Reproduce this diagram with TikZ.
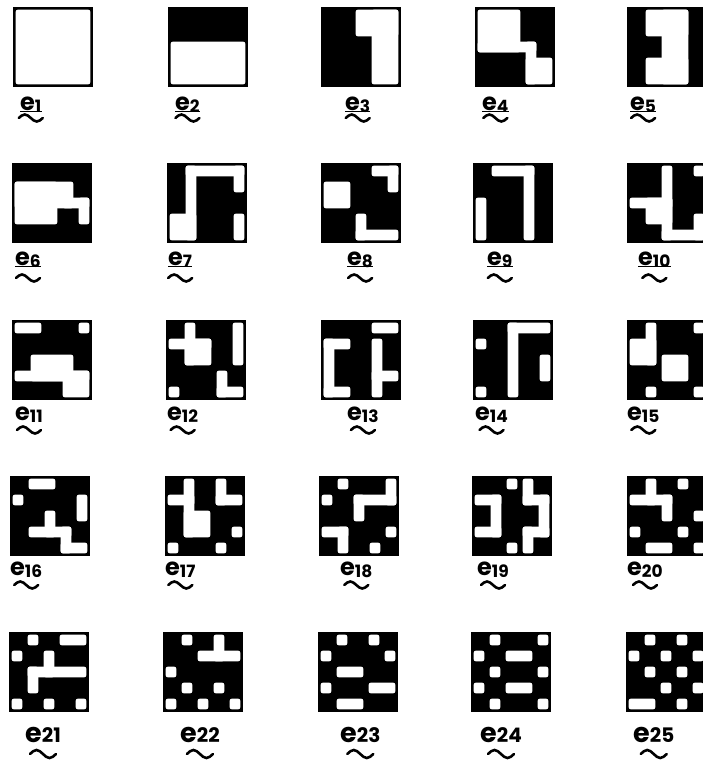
\documentclass[tikz,border=0pt]{standalone}
\usepackage{fontspec}
\setmainfont{Poppins}
\newcommand\drawpat[3]{%
  \fill[black] (#1,#2) rectangle ++(80,80);
  \foreach \ca/\ra/\cb/\rb in {#3}{%
    \fill[white,rounded corners=2.4pt] ({#1+16*\ca+2.6},{#2+16*\ra+2.6}) rectangle ({#1+16*\cb-2.6},{#2+16*\rb-2.6});
  }%
}
\newcommand\sbs[1]{\raisebox{-2pt}{\fontsize{17}{17}\selectfont\bfseries #1}}
\newcommand\sbb[1]{{\fontsize{20}{20}\selectfont\bfseries #1}}
% name, x, baseline, number, tilde offset
\newcommand\elab[5]{%
  \node[lab] (#1) at (#2,#3) {e\sbs{#4}};
  \draw[tl] ([xshift=-12pt,yshift=-#5pt]#1.base) sin ++(6,-3.5) cos ++(6,3.5) sin ++(6,3.5) cos ++(6,-3.5);
}
\newcommand\elabb[5]{%
  \node[labb] (#1) at (#2,#3) {e\sbb{#4}};
  \draw[tl] ([xshift=-13pt,yshift=-#5pt]#1.base) sin ++(6.5,-4) cos ++(6.5,4) sin ++(6.5,4) cos ++(6.5,-4);
}
\newcommand\ulab[1]{\draw[ul] ([yshift=-1.8pt]#1.base west) -- ([yshift=-1.8pt]#1.base east);}
\begin{document}
\begin{tikzpicture}[x=1pt,y=-1pt,
  lab/.style={inner sep=0pt, anchor=base west, font=\fontsize{24}{24}\selectfont\bfseries},
  labb/.style={inner sep=0pt, anchor=base west, font=\fontsize{27}{27}\selectfont\bfseries},
  tl/.style={line width=2.6pt, line cap=round},
  ul/.style={line width=1.3pt}]
\fill[white] (0,0) rectangle (703,763);
\useasboundingbox (0,0) rectangle (703,763);
% row 1
\drawpat{13}{7}{0/0/5/5}
\drawpat{168}{7}{0/2/5/5}
\drawpat{321}{7}{2/0/5/2, 3/0/5/5}
\drawpat{475}{7}{0/0/3/3, 0/2/4/3, 3/2/4/5, 3/3/5/5}
\drawpat{627}{7}{1/0/4/2, 2/0/4/5, 1/3/4/5}
% row 2
\drawpat{12}{163}{0/1/4/3, 0/1/3/4, 3/2/5/3, 4/2/5/4}
\drawpat{167}{163}{1/0/5/1, 1/0/2/5, 0/3/2/5, 4/0/5/2, 4/3/5/5}
\drawpat{321}{163}{3/0/5/1, 4/0/5/2, 0/1/2/3, 2/3/3/5, 2/4/5/5}
\drawpat{473}{163}{1/0/4/1, 3/0/4/5, 0/2/1/5}
\drawpat{627}{163}{2/0/3/5, 0/2/3/3, 1/2/3/4, 2/4/5/5, 4/3/5/5, 4/0/5/1}
% row 3
\drawpat{12}{320}{0/0/2/1, 4/0/5/1, 1/2/4/4, 0/3/5/4, 3/3/5/5}
\drawpat{166}{320}{1/0/2/3, 0/1/3/2, 1/1/3/3, 4/0/5/3, 3/3/4/5, 3/4/5/5, 0/4/1/5}
\drawpat{321}{320}{0/1/2/2, 0/1/1/5, 0/4/2/5, 3/0/5/1, 3/1/4/5, 3/3/5/4}
\drawpat{473}{320}{2/0/5/1, 2/0/3/5, 0/1/1/2, 0/4/1/5, 4/2/5/4}
\drawpat{627}{320}{1/0/2/3, 0/1/2/3, 2/2/4/4, 1/4/2/5, 4/4/5/5, 4/0/5/1}
% row 4
\drawpat{10}{476}{1/0/3/1, 0/1/1/2, 4/1/5/3, 2/2/3/4, 1/3/4/4, 3/3/4/5, 3/4/5/5}
\drawpat{165}{476}{1/0/2/4, 0/1/2/2, 1/2/3/4, 3/0/4/2, 3/1/5/2, 4/3/5/4, 0/4/1/5, 3/4/4/5}
\drawpat{319}{476}{1/0/2/1, 0/1/1/2, 4/0/5/2, 2/1/5/2, 2/1/3/3, 0/3/2/4, 1/3/2/5, 4/3/5/4, 3/4/4/5}
\drawpat{472}{476}{2/0/3/1, 2/4/3/5, 0/1/2/2, 1/1/2/4, 0/3/2/4, 3/0/4/2, 3/1/5/2, 4/1/5/4, 3/3/5/4, 3/3/4/5}
\drawpat{627}{476}{1/0/2/2, 0/1/3/2, 2/1/3/3, 3/0/4/1, 4/2/5/3, 0/3/1/4, 3/3/4/4, 1/4/3/5, 4/4/5/5}
% row 5
\drawpat{9}{632}{1/0/2/1, 3/0/5/1, 0/1/1/2, 2/1/3/3, 1/2/5/3, 1/2/2/4, 0/4/1/5, 2/4/3/5, 4/4/5/5}
\drawpat{163}{632}{1/0/2/1, 3/0/4/2, 2/1/5/2, 0/2/1/3, 1/3/2/4, 3/3/4/4, 0/4/1/5, 2/4/3/5, 4/4/5/5}
\drawpat{318}{632}{1/0/2/1, 3/0/4/1, 0/1/1/2, 4/1/5/2, 1/2/3/3, 0/3/1/4, 3/3/5/4, 1/4/3/5}
\drawpat{471}{632}{1/0/2/1, 4/0/5/1, 0/1/1/2, 2/1/4/2, 1/2/2/3, 4/2/5/3, 0/3/1/4, 2/3/4/4, 1/4/2/5, 4/4/5/5}
\drawpat{626}{632}{1/0/2/1, 3/0/4/1, 0/1/1/2, 2/1/3/2, 4/1/5/2, 1/2/2/3, 3/2/4/3, 2/3/3/4, 4/3/5/4, 0/4/2/5, 3/4/4/5}
% labels
\elab{l1}{20}{110}{1}{8}   \ulab{l1}
\elab{l2}{175}{110}{2}{8}  \ulab{l2}
\elab{l3}{345}{110}{3}{8}  \ulab{l3}
\elab{l4}{482}{110}{4}{8}  \ulab{l4}
\elab{l5}{630}{110}{5}{8}  \ulab{l5}
\elab{l6}{15}{265}{6}{13}  \ulab{l6}
\elab{l7}{168}{265}{7}{13} \ulab{l7}
\elab{l8}{347}{265}{8}{13} \ulab{l8}
\elab{l9}{487}{265}{9}{13} \ulab{l9}
\elab{l10}{638}{265}{10}{13} \ulab{l10}
\elab{l11}{15}{420}{11}{10}
\elab{l12}{167}{420}{12}{10}
\elab{l13}{347}{420}{13}{10}
\elab{l14}{475}{420}{14}{10}
\elab{l15}{627}{420}{15}{10}
\elab{l16}{10}{575}{16}{10}
\elab{l17}{165}{575}{17}{10}
\elab{l18}{340}{575}{18}{10}
\elab{l19}{477}{575}{19}{10}
\elab{l20}{627}{575}{20}{10}
\elabb{l21}{25}{742}{21}{12}
\elabb{l22}{180}{742}{22}{12}
\elabb{l23}{340}{742}{23}{12}
\elabb{l24}{480}{742}{24}{12}
\elabb{l25}{633}{742}{25}{12}
\end{tikzpicture}
\end{document}
